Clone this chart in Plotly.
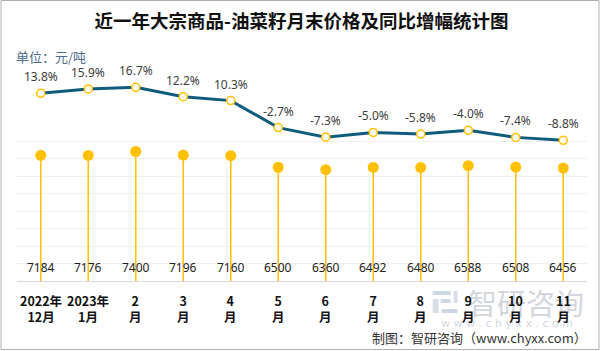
import plotly.graph_objects as go

categories = ["2022年<br>12月", "2023年<br>1月", "2<br>月", "3<br>月", "4<br>月", "5<br>月",
              "6<br>月", "7<br>月", "8<br>月", "9<br>月", "10<br>月", "11<br>月"]
prices = [7184, 7176, 7400, 7196, 7160, 6500, 6360, 6492, 6480, 6588, 6508, 6456]
yoy = [13.8, 15.9, 16.7, 12.2, 10.3, -2.7, -7.3, -5.0, -5.8, -4.0, -7.4, -8.8]

W, H = 603, 351
L, R, T, B = 17, 15.5, 60, 70
PW = W - L - R
PH = H - T - B

def px_x(p):
    return (p - L) / PW

def px_y(p):
    return (H - B - p) / PH

YEL = "#FFC000"
LINE = "#0f5c7d"
FONT = "Noto Sans CJK SC"

idx = list(range(len(categories)))

fig = go.Figure()

# stems
sx, sy = [], []
for i, v in zip(idx, prices):
    sx += [i, i, None]
    sy += [0, v, None]
fig.add_trace(go.Scatter(x=sx, y=sy, mode="lines", line=dict(color=YEL, width=1.5),
                         hoverinfo="skip", showlegend=False))
fig.add_trace(go.Scatter(x=idx, y=prices, mode="markers",
                         marker=dict(color=YEL, size=11), showlegend=False))
# yoy line
fig.add_trace(go.Scatter(x=idx, y=yoy, mode="lines+markers", yaxis="y2",
                         line=dict(color=LINE, width=3),
                         marker=dict(color="white", size=8, line=dict(color=YEL, width=1.5)),
                         showlegend=False))

ann = []
# watermark
ann.append(dict(text="智研咨询", xref="paper", yref="paper", x=px_x(526), y=px_y(302),
                xanchor="center", yanchor="middle", showarrow=False,
                font=dict(family=FONT, size=29, color="#d3d7dd")))
ann.append(dict(text="w w w . c h y x x . c o m", xref="paper", yref="paper", x=px_x(507), y=px_y(323),
                xanchor="center", yanchor="middle", showarrow=False,
                font=dict(family="DejaVu Sans", size=11, color="#d3d7dd")))

for i, v in zip(idx, yoy):
    ann.append(dict(x=i, y=v, xref="x", yref="y2", text=f"{v:.1f}%", showarrow=False,
                    xanchor="center", yanchor="middle", yshift=16.5,
                    font=dict(family="Noto Sans", size=12, color="#404040")))
for i, v in zip(idx, prices):
    ann.append(dict(x=i, y=0, xref="x", yref="y", text=str(v), showarrow=False,
                    xanchor="center", yanchor="middle", yshift=13.7,
                    font=dict(family="Noto Sans", size=12, color="#222222")))
for i, c in zip(idx, categories):
    ann.append(dict(x=i, y=0, xref="x", yref="y", text=f"<b>{c}</b>", showarrow=False,
                    xanchor="center", yanchor="middle", yshift=-27.5,
                    font=dict(family=FONT, size=12.5, color="#111111")))

ann.append(dict(text="单位：元/吨", xref="paper", yref="paper", x=px_x(14), y=px_y(56),
                xanchor="left", yanchor="middle", showarrow=False,
                font=dict(family=FONT, size=13, color="#4d6b8a")))
ann.append(dict(text="制图：智研咨询（www.chyxx.com）", xref="paper", yref="paper",
                x=px_x(590), y=px_y(337.5), xanchor="right", yanchor="middle", showarrow=False,
                font=dict(family=FONT, size=13, color="#333333")))

def prect(x0, x1, y0, y1, color):
    return dict(type="rect", xref="paper", yref="paper", x0=px_x(x0), x1=px_x(x1),
                y0=px_y(y1), y1=px_y(y0), line=dict(width=0), fillcolor=color, layer="below")

shapes = [dict(type="rect", xref="paper", yref="paper", x0=px_x(1), x1=px_x(599.5),
               y0=px_y(349.5), y1=px_y(0.5), line=dict(color="#b0b0b0", width=1),
               layer="below")]
# watermark logo (approximate)
shapes += [
    prect(433, 451, 291, 295, "#cdd6e3"),
    prect(454, 458, 291, 303, "#d8dee8"),
    prect(441, 451, 299, 303, "#cdd6e3"),
    prect(433, 439, 299, 313, "#d8dee8"),
    prect(442, 458, 309, 313, "#cdd6e3"),
]

fig.update_layout(
    width=W, height=H,
    margin=dict(l=L, r=R, t=T, b=B),
    paper_bgcolor="white", plot_bgcolor="white",
    title=dict(text="<b>近一年大宗商品-油菜籽月末价格及同比增幅统计图</b>", x=0.5, xref="container",
               y=1 - 21.7 / H, yref="container", xanchor="center", yanchor="middle",
               font=dict(family=FONT, size=18.5, color="#111111")),
    xaxis=dict(range=[-0.5, len(categories) - 0.5], showgrid=False, zeroline=False,
               showline=True, linecolor="#d9d9d9", linewidth=1, showticklabels=False, ticks=""),
    yaxis=dict(range=[0, 8000 * PH / 140], tickvals=list(range(0, 8001, 1000)),
               showticklabels=False, gridcolor="#efefef", gridwidth=1, zeroline=False),
    yaxis2=dict(range=[-(H - B - 122) / 2.078, (122 - T) / 2.078], overlaying="y",
                showgrid=False, showticklabels=False, zeroline=False),
    annotations=ann,
    shapes=shapes,
)

fig.write_html("out.html")
